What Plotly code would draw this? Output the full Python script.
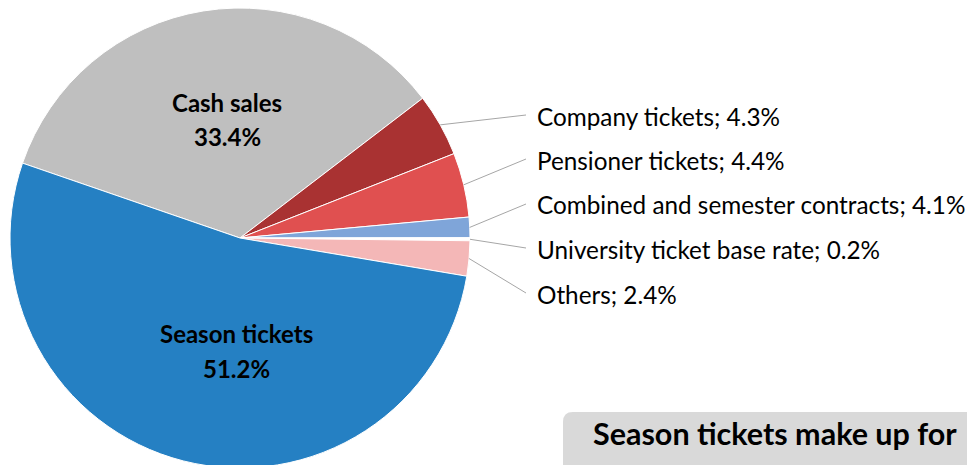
import math

from plotly import graph_objs as go

# slices in clockwise order, starting from cash sales
categories = ['Cash sales', 'Company tickets', 'Pensioner tickets',
              'Combined and semester contracts', 'University ticket base rate',
              'Others', 'Season tickets']
# shares as drawn in the picture (the combined slice is drawn as ~1.4%)
shares = [33.4, 4.3, 4.4, 1.4, 0.2, 2.4, 51.2]
# percentages as printed in the labels
label_pct = ['33.4%', '4.3%', '4.4%', '4.1%', '0.2%', '2.4%', '51.2%']
colors = ['#BFBFBF', '#A93232', '#E05050', '#7FA5D9', '#FFFFFF', '#F4B7B7', '#2580C3']

W, H = 975, 465
OFF = 8  # page body margin, the plot lands 8px right/down in the shot
FONT = 'Lato'
ROTATION = -71  # first slice starts here (degrees clockwise from 12 o'clock)

# pie geometry (radius 230px, top edge at screen y=8)
dom_x = [(10 - OFF) / W, (470 - OFF) / W]
dom_y = [1 - 460 / H, 1.0]
cx = (dom_x[0] + dom_x[1]) / 2 * W + OFF
cy = H - (dom_y[0] + dom_y[1]) / 2 * H + OFF
r = min((dom_x[1] - dom_x[0]) * W, (dom_y[1] - dom_y[0]) * H) / 2


def px(x, y):
    # screen pixel -> paper coords
    return (x - OFF) / W, 1 - (y - OFF) / H


def mid_angles():
    total = sum(shares)
    start = 90 - ROTATION
    out = []
    for v in shares:
        span = v / total * 360
        out.append(start - span / 2)
        start -= span
    return out


fig = go.Figure(go.Pie(
    labels=categories, values=shares, sort=False, direction='clockwise',
    rotation=ROTATION, textinfo='none', hoverinfo='label+percent',
    marker=dict(colors=colors, line=dict(color='white', width=1)),
    domain=dict(x=dom_x, y=dom_y), showlegend=False,
))

annotations = []
shapes = []


def text(x, y, s, size, anchor='center'):
    xp, yp = px(x, y)
    annotations.append(dict(
        x=xp, y=yp, xref='paper', yref='paper', showarrow=False,
        xanchor=anchor, yanchor='middle', text=s,
        font=dict(family=FONT, size=size, color='black'),
    ))


# inside labels for the two big slices (name line, percent line)
inside = {0: (227, 102, 136), 6: (236, 333, 368)}
for i, (lx, y1, y2) in inside.items():
    text(lx, y1, '<b>%s</b>' % categories[i], 24)
    text(lx, y2, '<b>%s</b>' % label_pct[i], 24)

# outside labels with leader lines
label_rows = [116, 160, 205, 249, 294]
angles = mid_angles()
for i, row in zip(range(1, 6), label_rows):
    a = math.radians(angles[i])
    sx, sy = cx + r * math.cos(a), cy - r * math.sin(a)
    x0, y0 = px(sx, sy)
    x1, y1 = px(526, row - 1)
    shapes.append(dict(type='line', xref='paper', yref='paper',
                       x0=x0, y0=y0, x1=x1, y1=y1,
                       line=dict(color='#A6A6A6', width=1)))
    text(535, row, '%s; %s' % (categories[i], label_pct[i]), 24.3, 'left')

# grey rounded box in the lower right
bx0, by0, bx1, by1, rad = 563, 412, 1000, 490, 10
path = ('M {a},{b1} L {a},{b0r} Q {a},{b0} {ar},{b0} L {c},{b0} '
        'L {c},{b1} Z').format(a=bx0, ar=bx0 + rad, b0=by0, b0r=by0 + rad,
                               b1=by1, c=bx1)


def path_to_paper(p):
    parts = []
    for tok in p.split():
        if ',' in tok:
            x, y = (float(v) for v in tok.split(','))
            xp, yp = px(x, y)
            parts.append('%.5f,%.5f' % (xp, yp))
        else:
            parts.append(tok)
    return ' '.join(parts)


shapes.append(dict(type='path', xref='paper', yref='paper',
                   path=path_to_paper(path), fillcolor='#D9D9D9',
                   line=dict(width=0), layer='below'))
text(775, 433, '<b>Season tickets make up for</b>', 30.5)

fig.update_layout(
    width=W, height=H, margin=dict(l=0, r=0, t=0, b=0),
    paper_bgcolor='white', plot_bgcolor='white',
    annotations=annotations, shapes=shapes,
)

fig.write_html('out.html')
